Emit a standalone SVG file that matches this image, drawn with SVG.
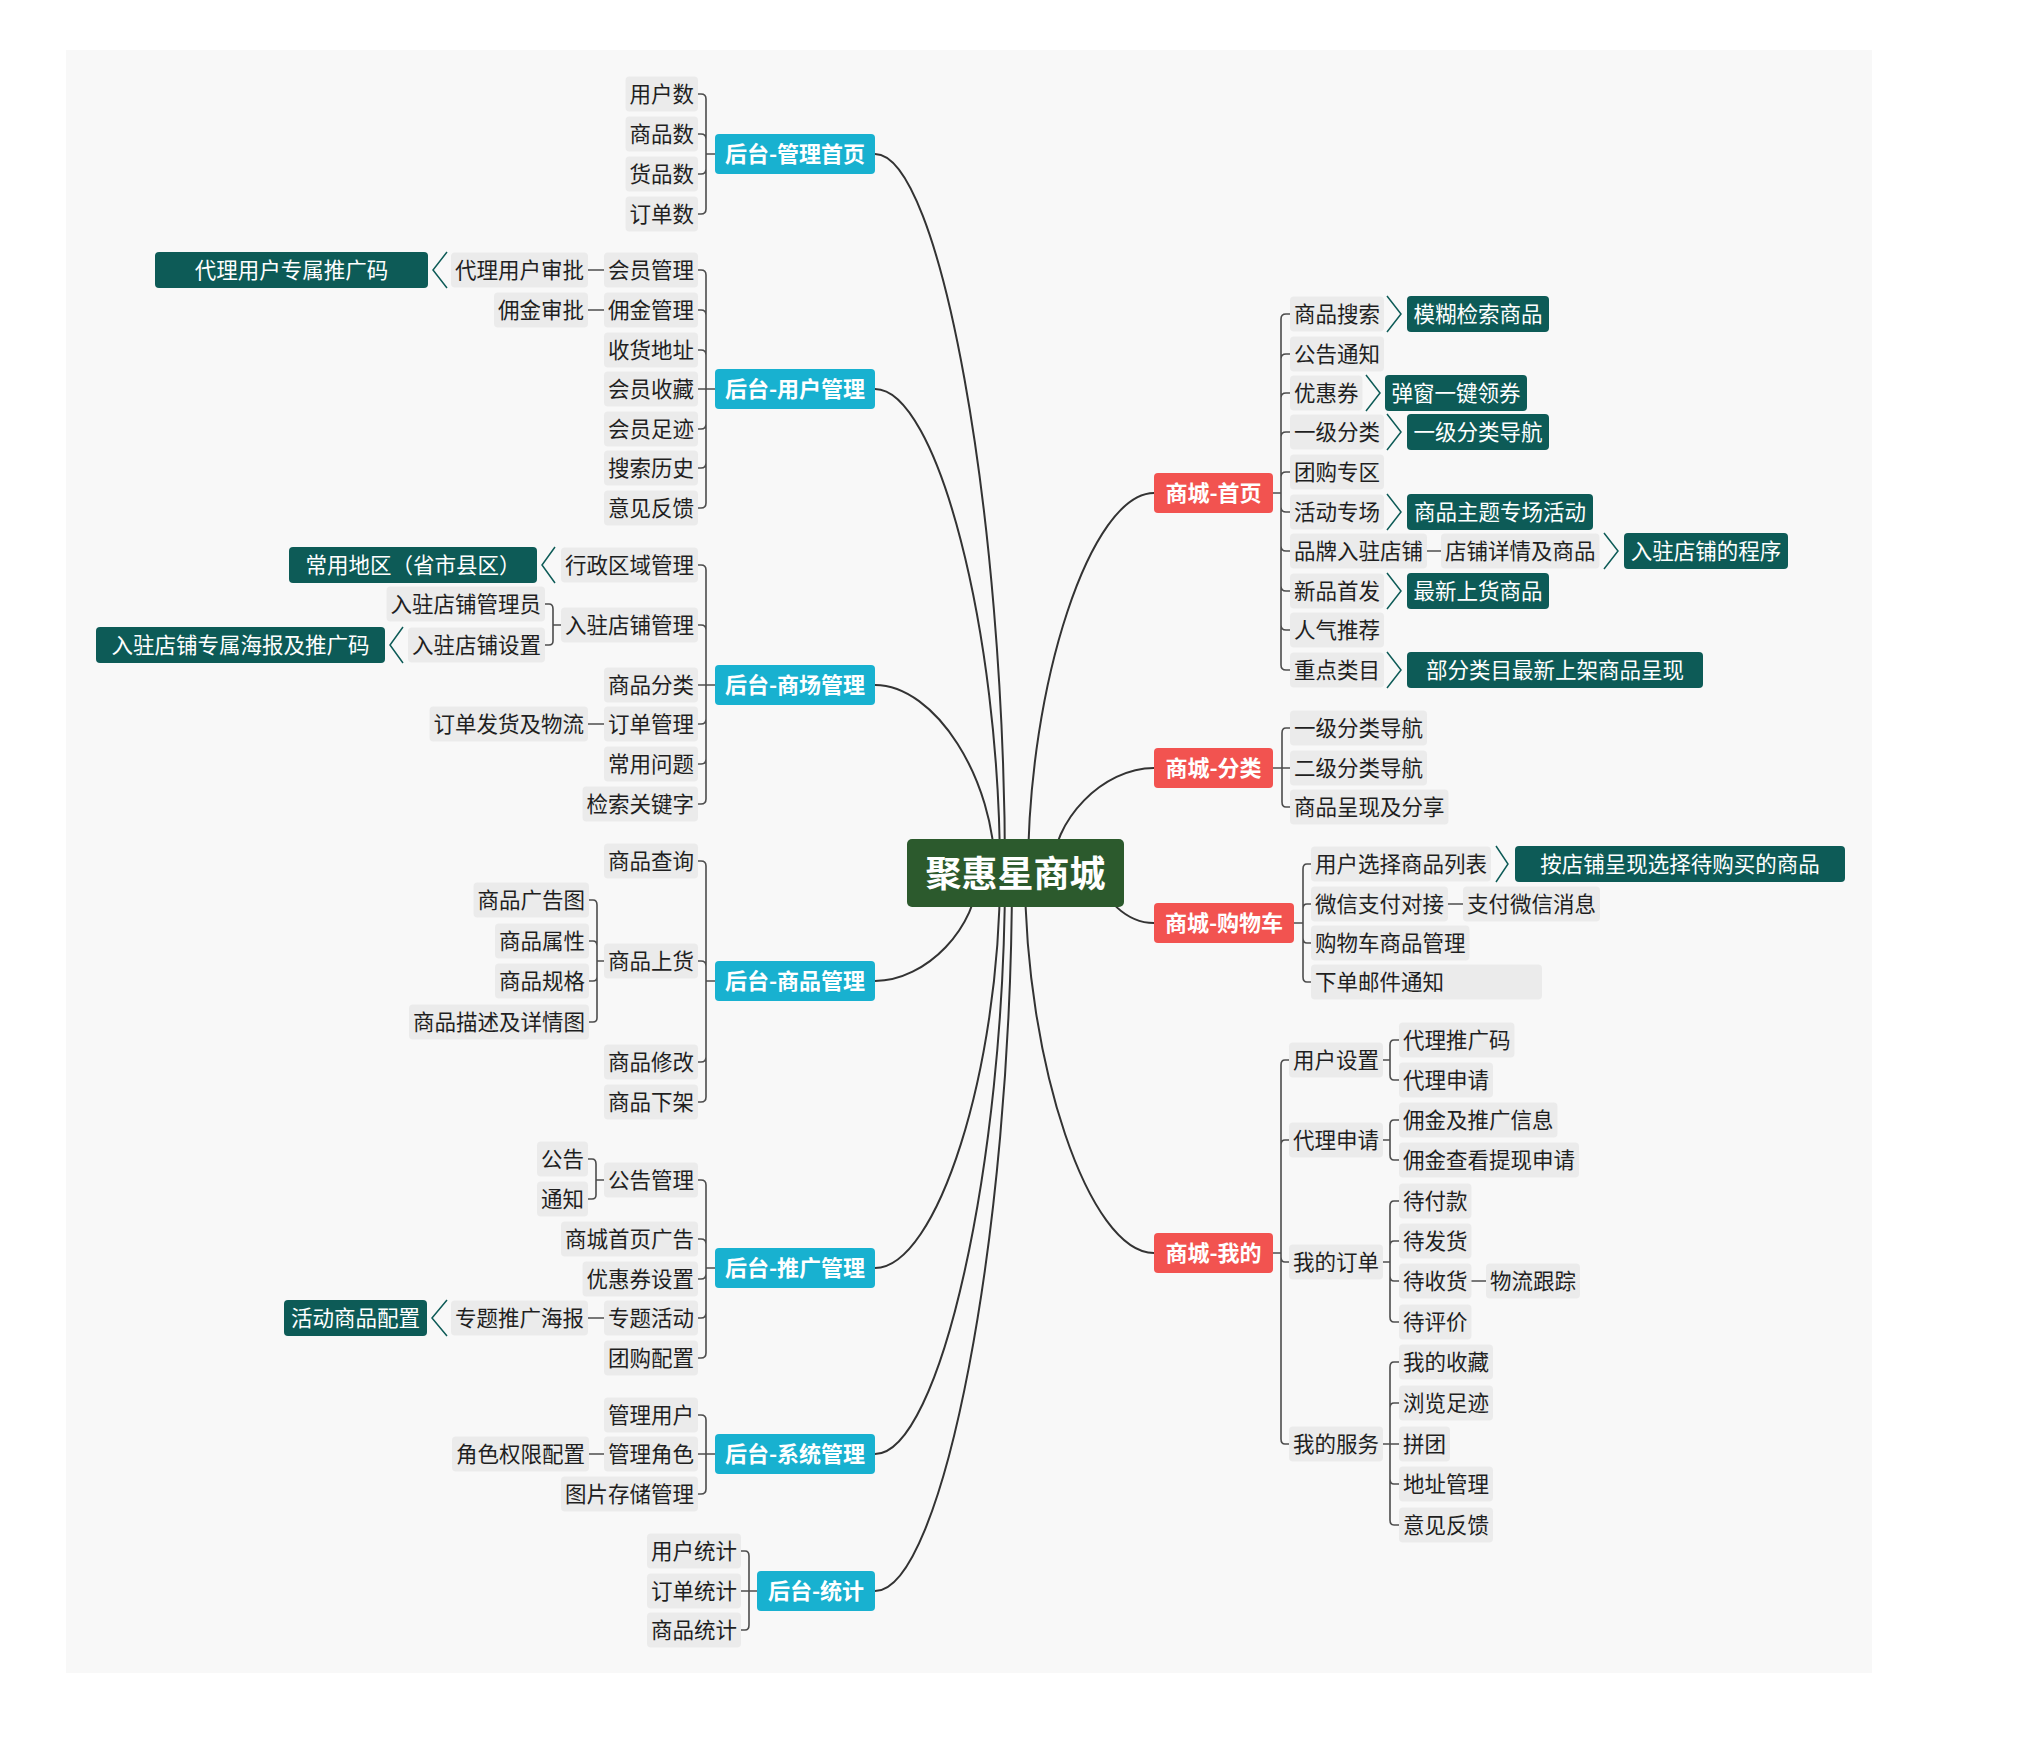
<svg xmlns="http://www.w3.org/2000/svg" width="2018" height="1741" viewBox="0 0 2018 1741">
<style>
text{font-family:"Noto Sans CJK SC","Noto Sans",sans-serif}
.lf{fill:#ebebeb}
.t{font-size:21.5px;fill:#1f1f1f}
.e{text-anchor:end}
.dk{fill:#0d5b57}
.dt{font-size:21.5px;fill:#ffffff;text-anchor:middle}
.bc{fill:#18b1d0}
.brd{fill:#f25350}
.bt{font-size:22px;font-weight:bold;fill:#ffffff;text-anchor:middle}
.rt{font-size:36px;font-weight:bold;fill:#ffffff;text-anchor:middle}
.cv{fill:none;stroke:#333333;stroke-width:2}
.bk{fill:none;stroke:#4d4d4d;stroke-width:1.6}
.ch{fill:none;stroke:#0d5b57;stroke-width:1.5}
</style>
<rect x="0" y="0" width="2018" height="1741" fill="#ffffff"/>
<rect x="66" y="50" width="1806" height="1623" fill="#f8f8f8"/>

<g id="connectors">
<path class="cv" d="M875,154 C940,154 1005,513 1005,873"/>
<path class="cv" d="M875,389 C937,389 1000,631 1000,873"/>
<path class="cv" d="M875,685 C935,685 995,779 995,873"/>
<path class="cv" d="M875,981 C926,981 978,927 978,873"/>
<path class="cv" d="M875,1268 C937,1268 1000,1070 1000,873"/>
<path class="cv" d="M875,1454 C940,1454 1005,1163 1005,873"/>
<path class="cv" d="M875,1591 C943,1591 1012,1232 1012,873"/>
<path class="cv" d="M1154,493 C1091,493 1028,683 1028,873"/>
<path class="cv" d="M1154,768 C1103,768 1052,820 1052,873"/>
<path class="cv" d="M1154,923 C1127,923 1100,898 1100,873"/>
<path class="cv" d="M1154,1253 C1089,1253 1025,1063 1025,873"/>

<path class="bk" d="M715,154 H706 M706,154 V99 Q706,94 701,94 H698 M706,154 V139 Q706,134 701,134 H698 M706,154 V169 Q706,174 701,174 H698 M706,154 V209 Q706,214 701,214 H698"/>
<path class="bk" d="M715,389 H698 M706,389 V275 Q706,270 701,270 H698 M706,389 V315 Q706,310 701,310 H698 M706,389 V355 Q706,350 701,350 H698 M706,389 V424 Q706,429 701,429 H698 M706,389 V463 Q706,468 701,468 H698 M706,389 V503 Q706,508 701,508 H698"/>
<path class="bk" d="M715,685 H698 M706,685 V570 Q706,565 701,565 H698 M706,685 V630 Q706,625 701,625 H698 M706,685 V719 Q706,724 701,724 H698 M706,685 V759 Q706,764 701,764 H698 M706,685 V799 Q706,804 701,804 H698"/>
<path class="bk" d="M561,625 H553 M553,625 V609 Q553,604 549,604 H545 M553,625 V641 Q553,645 549,645 H545"/>
<path class="bk" d="M715,981 H706 M706,981 V866 Q706,861 701,861 H698 M706,981 V966 Q706,961 701,961 H698 M706,981 V1057 Q706,1062 701,1062 H698 M706,981 V1097 Q706,1102 701,1102 H698"/>
<path class="bk" d="M604,961 H597 M597,961 V905 Q597,900 593,900 H589 M597,961 V946 Q597,941 593,941 H589 M597,961 V977 Q597,981 593,981 H589 M597,961 V1018 Q597,1022 593,1022 H589"/>
<path class="bk" d="M715,1268 H706 M706,1268 V1185 Q706,1180 701,1180 H698 M706,1268 V1244 Q706,1239 701,1239 H698 M706,1268 V1274 Q706,1279 701,1279 H698 M706,1268 V1313 Q706,1318 701,1318 H698 M706,1268 V1353 Q706,1358 701,1358 H698"/>
<path class="bk" d="M604,1180 H596 M596,1180 V1164 Q596,1159 592,1159 H588 M596,1180 V1195 Q596,1199 592,1199 H588"/>
<path class="bk" d="M715,1454 H698 M706,1454 V1420 Q706,1415 701,1415 H698 M706,1454 V1489 Q706,1494 701,1494 H698"/>
<path class="bk" d="M757,1591 H741 M749,1591 V1556 Q749,1551 745,1551 H741 M749,1591 V1625 Q749,1630 745,1630 H741"/>
<path class="bk" d="M588,270 H604 M588,310 H604 M588,724 H604 M588,1318 H604 M589,1454 H604"/>

<path class="bk" d="M1273,493 H1281 M1281,493 V319 Q1281,314 1286,314 H1290 M1281,493 V359 Q1281,354 1286,354 H1290 M1281,493 V398 Q1281,393 1286,393 H1290 M1281,493 V437 Q1281,432 1286,432 H1290 M1281,493 V477 Q1281,472 1286,472 H1290 M1281,493 V507 Q1281,512 1286,512 H1290 M1281,493 V546 Q1281,551 1286,551 H1290 M1281,493 V586 Q1281,591 1286,591 H1290 M1281,493 V625 Q1281,630 1286,630 H1290 M1281,493 V665 Q1281,670 1286,670 H1290"/>
<path class="bk" d="M1273,768 H1290 M1282,768 V733 Q1282,728 1286,728 H1290 M1282,768 V802 Q1282,807 1286,807 H1290"/>
<path class="bk" d="M1294,923 H1303 M1303,923 V869 Q1303,864 1307,864 H1311 M1303,923 V909 Q1303,904 1307,904 H1311 M1303,923 V938 Q1303,943 1307,943 H1311 M1303,923 V977 Q1303,982 1307,982 H1311"/>
<path class="bk" d="M1273,1253 H1281 M1281,1253 V1065 Q1281,1060 1285,1060 H1289 M1281,1253 V1145 Q1281,1140 1285,1140 H1289 M1281,1253 V1257 Q1281,1262 1285,1262 H1289 M1281,1253 V1439 Q1281,1444 1285,1444 H1289"/>
<path class="bk" d="M1383,1060 H1390 M1390,1060 V1045 Q1390,1040 1394,1040 H1399 M1390,1060 V1075 Q1390,1080 1394,1080 H1399"/>
<path class="bk" d="M1383,1140 H1390 M1390,1140 V1125 Q1390,1120 1394,1120 H1399 M1390,1140 V1155 Q1390,1160 1394,1160 H1399"/>
<path class="bk" d="M1383,1262 H1390 M1390,1262 V1206 Q1390,1201 1394,1201 H1399 M1390,1262 V1246 Q1390,1241 1394,1241 H1399 M1390,1262 V1276 Q1390,1281 1394,1281 H1399 M1390,1262 V1317 Q1390,1322 1394,1322 H1399"/>
<path class="bk" d="M1383,1444 H1399 M1390,1444 V1367 Q1390,1362 1394,1362 H1399 M1390,1444 V1408 Q1390,1403 1394,1403 H1399 M1390,1444 V1479 Q1390,1484 1394,1484 H1399 M1390,1444 V1520 Q1390,1525 1394,1525 H1399"/>
<path class="bk" d="M1427,551 H1441 M1448,904 H1463 M1471,1281 H1486"/>

<polyline class="ch" points="447,252 433,270 447,288"/>
<polyline class="ch" points="555,547 542,565 555,583"/>
<polyline class="ch" points="403,627 390,645 403,663"/>
<polyline class="ch" points="447,1300 432,1318 447,1336"/>
<polyline class="ch" points="1387,296 1401,314 1387,332"/>
<polyline class="ch" points="1366,375 1380,393 1366,411"/>
<polyline class="ch" points="1387,414 1401,432 1387,450"/>
<polyline class="ch" points="1387,494 1401,512 1387,530"/>
<polyline class="ch" points="1604,533 1618,551 1604,569"/>
<polyline class="ch" points="1387,573 1401,591 1387,609"/>
<polyline class="ch" points="1387,652 1401,670 1387,688"/>
<polyline class="ch" points="1496,846 1508,864 1496,882"/>
</g>

<g id="root"><rect x="907" y="839" width="217" height="68" rx="5" fill="#2c5a2d"/><text class="rt" x="1015.5" y="886.5">聚惠星商城</text></g>

<g id="b1"><rect class="bc" x="715" y="134" width="160" height="40" rx="4"/><text class="bt" x="795" y="162">后台-管理首页</text></g>
<g id="b2"><rect class="bc" x="715" y="369" width="160" height="40" rx="4"/><text class="bt" x="795" y="397">后台-用户管理</text></g>
<g id="b3"><rect class="bc" x="715" y="665" width="160" height="40" rx="4"/><text class="bt" x="795" y="693">后台-商场管理</text></g>
<g id="b4"><rect class="bc" x="715" y="961" width="160" height="40" rx="4"/><text class="bt" x="795" y="989">后台-商品管理</text></g>
<g id="b5"><rect class="bc" x="715" y="1248" width="160" height="40" rx="4"/><text class="bt" x="795" y="1276">后台-推广管理</text></g>
<g id="b6"><rect class="bc" x="715" y="1434" width="160" height="40" rx="4"/><text class="bt" x="795" y="1462">后台-系统管理</text></g>
<g id="b7"><rect class="bc" x="757" y="1571" width="118" height="40" rx="4"/><text class="bt" x="816" y="1599">后台-统计</text></g>
<g id="b8"><rect class="brd" x="1154" y="473" width="119" height="40" rx="4"/><text class="bt" x="1213.5" y="501">商城-首页</text></g>
<g id="b9"><rect class="brd" x="1154" y="748" width="119" height="40" rx="4"/><text class="bt" x="1213.5" y="776">商城-分类</text></g>
<g id="b10"><rect class="brd" x="1154" y="903" width="140" height="40" rx="4"/><text class="bt" x="1224" y="931">商城-购物车</text></g>
<g id="b11"><rect class="brd" x="1154" y="1233" width="119" height="40" rx="4"/><text class="bt" x="1213.5" y="1261">商城-我的</text></g>

<g id="n1"><rect class="lf" x="625.5" y="76.5" width="72.5" height="35" rx="4"/><text class="t e" x="694" y="101.5">用户数</text></g>
<g id="n2"><rect class="lf" x="625.5" y="116.5" width="72.5" height="35" rx="4"/><text class="t e" x="694" y="141.5">商品数</text></g>
<g id="n3"><rect class="lf" x="625.5" y="156.5" width="72.5" height="35" rx="4"/><text class="t e" x="694" y="181.5">货品数</text></g>
<g id="n4"><rect class="lf" x="625.5" y="196.5" width="72.5" height="35" rx="4"/><text class="t e" x="694" y="221.5">订单数</text></g>

<g id="n5"><rect class="lf" x="604" y="252.5" width="94" height="35" rx="4"/><text class="t e" x="694" y="277.5">会员管理</text></g>
<g id="n6"><rect class="lf" x="604" y="292.5" width="94" height="35" rx="4"/><text class="t e" x="694" y="317.5">佣金管理</text></g>
<g id="n7"><rect class="lf" x="604" y="332.5" width="94" height="35" rx="4"/><text class="t e" x="694" y="357.5">收货地址</text></g>
<g id="n8"><rect class="lf" x="604" y="371.5" width="94" height="35" rx="4"/><text class="t e" x="694" y="396.5">会员收藏</text></g>
<g id="n9"><rect class="lf" x="604" y="411.5" width="94" height="35" rx="4"/><text class="t e" x="694" y="436.5">会员足迹</text></g>
<g id="n10"><rect class="lf" x="604" y="450.5" width="94" height="35" rx="4"/><text class="t e" x="694" y="475.5">搜索历史</text></g>
<g id="n11"><rect class="lf" x="604" y="490.5" width="94" height="35" rx="4"/><text class="t e" x="694" y="515.5">意见反馈</text></g>
<g id="n12"><rect class="lf" x="451" y="252.5" width="137" height="35" rx="4"/><text class="t e" x="584" y="277.5">代理用户审批</text></g>
<g id="n13"><rect class="lf" x="494" y="292.5" width="94" height="35" rx="4"/><text class="t e" x="584" y="317.5">佣金审批</text></g>
<g id="d1"><rect class="dk" x="155" y="252" width="273" height="36" rx="4"/><text class="dt" x="291.5" y="277.5">代理用户专属推广码</text></g>

<g id="n14"><rect class="lf" x="561" y="547.5" width="137" height="35" rx="4"/><text class="t e" x="694" y="572.5">行政区域管理</text></g>
<g id="n15"><rect class="lf" x="561" y="607.5" width="137" height="35" rx="4"/><text class="t e" x="694" y="632.5">入驻店铺管理</text></g>
<g id="n16"><rect class="lf" x="604" y="667.5" width="94" height="35" rx="4"/><text class="t e" x="694" y="692.5">商品分类</text></g>
<g id="n17"><rect class="lf" x="604" y="706.5" width="94" height="35" rx="4"/><text class="t e" x="694" y="731.5">订单管理</text></g>
<g id="n18"><rect class="lf" x="604" y="746.5" width="94" height="35" rx="4"/><text class="t e" x="694" y="771.5">常用问题</text></g>
<g id="n19"><rect class="lf" x="582.5" y="786.5" width="115.5" height="35" rx="4"/><text class="t e" x="694" y="811.5">检索关键字</text></g>
<g id="n20"><rect class="lf" x="386.5" y="586.5" width="158.5" height="35" rx="4"/><text class="t e" x="541" y="611.5">入驻店铺管理员</text></g>
<g id="n21"><rect class="lf" x="408" y="627.5" width="137" height="35" rx="4"/><text class="t e" x="541" y="652.5">入驻店铺设置</text></g>
<g id="n22"><rect class="lf" x="429.5" y="706.5" width="158.5" height="35" rx="4"/><text class="t e" x="584" y="731.5">订单发货及物流</text></g>
<g id="d2"><rect class="dk" x="289" y="547" width="248" height="36" rx="4"/><text class="dt" x="413" y="572.5">常用地区（省市县区）</text></g>
<g id="d3"><rect class="dk" x="96" y="627" width="289" height="36" rx="4"/><text class="dt" x="240.5" y="652.5">入驻店铺专属海报及推广码</text></g>

<g id="n23"><rect class="lf" x="604" y="843.5" width="94" height="35" rx="4"/><text class="t e" x="694" y="868.5">商品查询</text></g>
<g id="n24"><rect class="lf" x="604" y="943.5" width="94" height="35" rx="4"/><text class="t e" x="694" y="968.5">商品上货</text></g>
<g id="n25"><rect class="lf" x="604" y="1044.5" width="94" height="35" rx="4"/><text class="t e" x="694" y="1069.5">商品修改</text></g>
<g id="n26"><rect class="lf" x="604" y="1084.5" width="94" height="35" rx="4"/><text class="t e" x="694" y="1109.5">商品下架</text></g>
<g id="n27"><rect class="lf" x="473.5" y="882.5" width="115.5" height="35" rx="4"/><text class="t e" x="585" y="907.5">商品广告图</text></g>
<g id="n28"><rect class="lf" x="495" y="923.5" width="94" height="35" rx="4"/><text class="t e" x="585" y="948.5">商品属性</text></g>
<g id="n29"><rect class="lf" x="495" y="963.5" width="94" height="35" rx="4"/><text class="t e" x="585" y="988.5">商品规格</text></g>
<g id="n30"><rect class="lf" x="409" y="1004.5" width="180" height="35" rx="4"/><text class="t e" x="585" y="1029.5">商品描述及详情图</text></g>

<g id="n31"><rect class="lf" x="604" y="1162.5" width="94" height="35" rx="4"/><text class="t e" x="694" y="1187.5">公告管理</text></g>
<g id="n32"><rect class="lf" x="561" y="1221.5" width="137" height="35" rx="4"/><text class="t e" x="694" y="1246.5">商城首页广告</text></g>
<g id="n33"><rect class="lf" x="582.5" y="1261.5" width="115.5" height="35" rx="4"/><text class="t e" x="694" y="1286.5">优惠券设置</text></g>
<g id="n34"><rect class="lf" x="604" y="1300.5" width="94" height="35" rx="4"/><text class="t e" x="694" y="1325.5">专题活动</text></g>
<g id="n35"><rect class="lf" x="604" y="1340.5" width="94" height="35" rx="4"/><text class="t e" x="694" y="1365.5">团购配置</text></g>
<g id="n36"><rect class="lf" x="537" y="1141.5" width="51" height="35" rx="4"/><text class="t e" x="584" y="1166.5">公告</text></g>
<g id="n37"><rect class="lf" x="537" y="1181.5" width="51" height="35" rx="4"/><text class="t e" x="584" y="1206.5">通知</text></g>
<g id="n38"><rect class="lf" x="451" y="1300.5" width="137" height="35" rx="4"/><text class="t e" x="584" y="1325.5">专题推广海报</text></g>
<g id="d4"><rect class="dk" x="284" y="1300" width="143" height="36" rx="4"/><text class="dt" x="355.5" y="1325.5">活动商品配置</text></g>

<g id="n39"><rect class="lf" x="604" y="1397.5" width="94" height="35" rx="4"/><text class="t e" x="694" y="1422.5">管理用户</text></g>
<g id="n40"><rect class="lf" x="604" y="1436.5" width="94" height="35" rx="4"/><text class="t e" x="694" y="1461.5">管理角色</text></g>
<g id="n41"><rect class="lf" x="561" y="1476.5" width="137" height="35" rx="4"/><text class="t e" x="694" y="1501.5">图片存储管理</text></g>
<g id="n42"><rect class="lf" x="452" y="1436.5" width="137" height="35" rx="4"/><text class="t e" x="585" y="1461.5">角色权限配置</text></g>

<g id="n43"><rect class="lf" x="647" y="1533.5" width="94" height="35" rx="4"/><text class="t e" x="737" y="1558.5">用户统计</text></g>
<g id="n44"><rect class="lf" x="647" y="1573.5" width="94" height="35" rx="4"/><text class="t e" x="737" y="1598.5">订单统计</text></g>
<g id="n45"><rect class="lf" x="647" y="1612.5" width="94" height="35" rx="4"/><text class="t e" x="737" y="1637.5">商品统计</text></g>

<g id="n46"><rect class="lf" x="1290" y="296.5" width="94" height="35" rx="4"/><text class="t" x="1294" y="321.5">商品搜索</text></g>
<g id="n47"><rect class="lf" x="1290" y="336.5" width="94" height="35" rx="4"/><text class="t" x="1294" y="361.5">公告通知</text></g>
<g id="n48"><rect class="lf" x="1290" y="375.5" width="72.5" height="35" rx="4"/><text class="t" x="1294" y="400.5">优惠券</text></g>
<g id="n49"><rect class="lf" x="1290" y="414.5" width="94" height="35" rx="4"/><text class="t" x="1294" y="439.5">一级分类</text></g>
<g id="n50"><rect class="lf" x="1290" y="454.5" width="94" height="35" rx="4"/><text class="t" x="1294" y="479.5">团购专区</text></g>
<g id="n51"><rect class="lf" x="1290" y="494.5" width="94" height="35" rx="4"/><text class="t" x="1294" y="519.5">活动专场</text></g>
<g id="n52"><rect class="lf" x="1290" y="533.5" width="137" height="35" rx="4"/><text class="t" x="1294" y="558.5">品牌入驻店铺</text></g>
<g id="n53"><rect class="lf" x="1441" y="533.5" width="158.5" height="35" rx="4"/><text class="t" x="1445" y="558.5">店铺详情及商品</text></g>
<g id="n54"><rect class="lf" x="1290" y="573.5" width="94" height="35" rx="4"/><text class="t" x="1294" y="598.5">新品首发</text></g>
<g id="n55"><rect class="lf" x="1290" y="612.5" width="94" height="35" rx="4"/><text class="t" x="1294" y="637.5">人气推荐</text></g>
<g id="n56"><rect class="lf" x="1290" y="652.5" width="94" height="35" rx="4"/><text class="t" x="1294" y="677.5">重点类目</text></g>
<g id="d5"><rect class="dk" x="1407" y="296" width="142" height="36" rx="4"/><text class="dt" x="1478" y="321.5">模糊检索商品</text></g>
<g id="d6"><rect class="dk" x="1385" y="375" width="142" height="36" rx="4"/><text class="dt" x="1456" y="400.5">弹窗一键领券</text></g>
<g id="d7"><rect class="dk" x="1407" y="414" width="142" height="36" rx="4"/><text class="dt" x="1478" y="439.5">一级分类导航</text></g>
<g id="d8"><rect class="dk" x="1407" y="494" width="186" height="36" rx="4"/><text class="dt" x="1500" y="519.5">商品主题专场活动</text></g>
<g id="d9"><rect class="dk" x="1624" y="533" width="164" height="36" rx="4"/><text class="dt" x="1706" y="558.5">入驻店铺的程序</text></g>
<g id="d10"><rect class="dk" x="1407" y="573" width="142" height="36" rx="4"/><text class="dt" x="1478" y="598.5">最新上货商品</text></g>
<g id="d11"><rect class="dk" x="1407" y="652" width="296" height="36" rx="4"/><text class="dt" x="1555" y="677.5">部分类目最新上架商品呈现</text></g>

<g id="n57"><rect class="lf" x="1290" y="710.5" width="137" height="35" rx="4"/><text class="t" x="1294" y="735.5">一级分类导航</text></g>
<g id="n58"><rect class="lf" x="1290" y="750.5" width="137" height="35" rx="4"/><text class="t" x="1294" y="775.5">二级分类导航</text></g>
<g id="n59"><rect class="lf" x="1290" y="789.5" width="158.5" height="35" rx="4"/><text class="t" x="1294" y="814.5">商品呈现及分享</text></g>

<g id="n60"><rect class="lf" x="1311" y="846.5" width="180" height="35" rx="4"/><text class="t" x="1315" y="871.5">用户选择商品列表</text></g>
<g id="n61"><rect class="lf" x="1311" y="886.5" width="137" height="35" rx="4"/><text class="t" x="1315" y="911.5">微信支付对接</text></g>
<g id="n62"><rect class="lf" x="1463" y="886.5" width="137" height="35" rx="4"/><text class="t" x="1467" y="911.5">支付微信消息</text></g>
<g id="n63"><rect class="lf" x="1311" y="925.5" width="158.5" height="35" rx="4"/><text class="t" x="1315" y="950.5">购物车商品管理</text></g>
<g id="n64"><rect class="lf" x="1311" y="964.5" width="231" height="35" rx="4"/><text class="t" x="1315" y="989.5">下单邮件通知</text></g>
<g id="d12"><rect class="dk" x="1515" y="846" width="330" height="36" rx="4"/><text class="dt" x="1680" y="871.5">按店铺呈现选择待购买的商品</text></g>

<g id="n65"><rect class="lf" x="1289" y="1042.5" width="94" height="35" rx="4"/><text class="t" x="1293" y="1067.5">用户设置</text></g>
<g id="n66"><rect class="lf" x="1289" y="1122.5" width="94" height="35" rx="4"/><text class="t" x="1293" y="1147.5">代理申请</text></g>
<g id="n67"><rect class="lf" x="1289" y="1244.5" width="94" height="35" rx="4"/><text class="t" x="1293" y="1269.5">我的订单</text></g>
<g id="n68"><rect class="lf" x="1289" y="1426.5" width="94" height="35" rx="4"/><text class="t" x="1293" y="1451.5">我的服务</text></g>
<g id="n69"><rect class="lf" x="1399" y="1022.5" width="115.5" height="35" rx="4"/><text class="t" x="1403" y="1047.5">代理推广码</text></g>
<g id="n70"><rect class="lf" x="1399" y="1062.5" width="94" height="35" rx="4"/><text class="t" x="1403" y="1087.5">代理申请</text></g>
<g id="n71"><rect class="lf" x="1399" y="1102.5" width="158.5" height="35" rx="4"/><text class="t" x="1403" y="1127.5">佣金及推广信息</text></g>
<g id="n72"><rect class="lf" x="1399" y="1142.5" width="180" height="35" rx="4"/><text class="t" x="1403" y="1167.5">佣金查看提现申请</text></g>
<g id="n73"><rect class="lf" x="1399" y="1183.5" width="72.5" height="35" rx="4"/><text class="t" x="1403" y="1208.5">待付款</text></g>
<g id="n74"><rect class="lf" x="1399" y="1223.5" width="72.5" height="35" rx="4"/><text class="t" x="1403" y="1248.5">待发货</text></g>
<g id="n75"><rect class="lf" x="1399" y="1263.5" width="72.5" height="35" rx="4"/><text class="t" x="1403" y="1288.5">待收货</text></g>
<g id="n76"><rect class="lf" x="1486" y="1263.5" width="94" height="35" rx="4"/><text class="t" x="1490" y="1288.5">物流跟踪</text></g>
<g id="n77"><rect class="lf" x="1399" y="1304.5" width="72.5" height="35" rx="4"/><text class="t" x="1403" y="1329.5">待评价</text></g>
<g id="n78"><rect class="lf" x="1399" y="1344.5" width="94" height="35" rx="4"/><text class="t" x="1403" y="1369.5">我的收藏</text></g>
<g id="n79"><rect class="lf" x="1399" y="1385.5" width="94" height="35" rx="4"/><text class="t" x="1403" y="1410.5">浏览足迹</text></g>
<g id="n80"><rect class="lf" x="1399" y="1426.5" width="51" height="35" rx="4"/><text class="t" x="1403" y="1451.5">拼团</text></g>
<g id="n81"><rect class="lf" x="1399" y="1466.5" width="94" height="35" rx="4"/><text class="t" x="1403" y="1491.5">地址管理</text></g>
<g id="n82"><rect class="lf" x="1399" y="1507.5" width="94" height="35" rx="4"/><text class="t" x="1403" y="1532.5">意见反馈</text></g>
</svg>
